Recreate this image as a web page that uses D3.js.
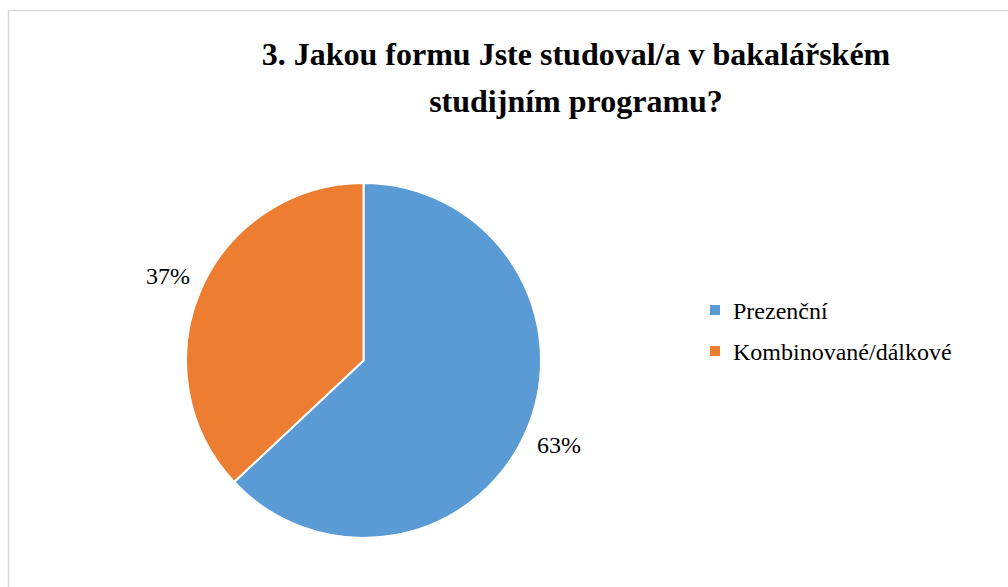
<!DOCTYPE html>
<html><head><meta charset="utf-8">
<script src="https://cdn.jsdelivr.net/npm/d3@7"></script>
<style>body{margin:0;background:#fff;} svg{display:block;font-family:"Times New Roman","Liberation Serif",Tinos,serif;}</style>
</head><body>
<svg id="c" width="1008" height="587" style="font-family:'Times New Roman','Liberation Serif',Tinos,serif"></svg>
<script>
const categories = ["Prezenční", "Kombinované/dálkové"];
const values = [63, 37];
const colors = ["#5B9BD5", "#ED7D31"];
const titleLines = ["3. Jakou formu Jste studoval/a v bakalářském", "studijním programu?"];

const svg = d3.select("#c");

svg.append("rect").attr("x", 8.5).attr("y", 10.5).attr("width", 1010).attr("height", 600)
  .attr("fill", "#fff").attr("stroke", "#d9d9d9").attr("stroke-width", 1.5);

svg.append("g").selectAll("text").data(titleLines).join("text")
  .attr("x", 576).attr("y", (d, i) => 65 + i * 47)
  .attr("text-anchor", "middle")
  .attr("font-weight", "bold").attr("font-size", 32).attr("fill", "#000")
  .text(d => d);

const cx = 363.5, cy = 360.5, r = 177.5;
const pie = d3.pie().sort(null).value(d => d)(values);
const arc = d3.arc().innerRadius(0).outerRadius(r);
const g = svg.append("g").attr("transform", `translate(${cx},${cy})`);
g.selectAll("path").data(pie).join("path")
  .attr("d", arc).attr("fill", (d, i) => colors[i])
  .attr("stroke", "#fff").attr("stroke-width", 2);

const labelArc = d3.arc().innerRadius(r * 1.2).outerRadius(r * 1.2);
g.selectAll("text.lbl").data(pie).join("text").attr("class", "lbl")
  .attr("transform", d => { const c = labelArc.centroid(d); return `translate(${c[0]},${c[1]})`; })
  .attr("text-anchor", "middle").attr("dy", "0.35em")
  .attr("font-size", 24).attr("fill", "#000")
  .text(d => d.data + "%");

const leg = svg.append("g").selectAll("g").data(categories).join("g")
  .attr("transform", (d, i) => `translate(710,${305 + i * 41})`);
leg.append("rect").attr("width", 10).attr("height", 10).attr("fill", (d, i) => colors[i]);
leg.append("text").attr("x", 23).attr("y", 14)
  .attr("font-size", 24).attr("fill", "#000").text(d => d);
</script>
</body></html>
